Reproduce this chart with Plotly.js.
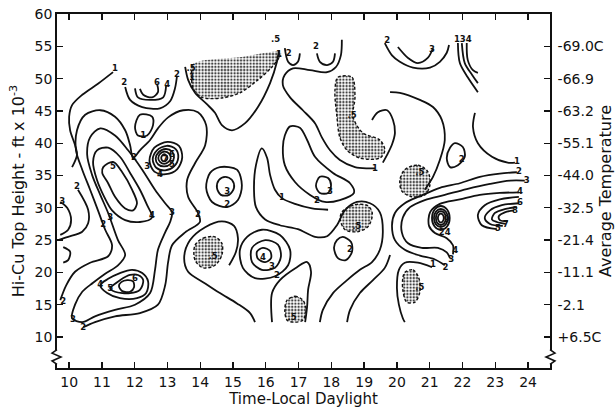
<!DOCTYPE html>
<html><head><meta charset="utf-8">
<script src="https://cdn.plot.ly/plotly-3.0.1.min.js"></script>
<style>html,body{margin:0;padding:0;background:#fff}#chart{width:615px;height:409px}</style>
</head><body><div id="chart"></div>
<script>
// ---- tick values / labels ----
const hourTicks = [10,11,12,13,14,15,16,17,18,19,20,21,22,23,24];
const heightTicks = [10,15,20,25,30,35,40,45,50,55,60];
const tempTickHeights = [55,50,45,40,35,30,25,20,15,10];
const tempTickLabels = ['-69.0C','-66.9','-63.2','-55.1','-44.0','-32.5','-21.4','-11.1','-2.1','+6.5C'];

const c1X=[11.34,10.88,10.40,10.09,10.00,10.03,10.18,10.24,10.09], c1Y=[51.0,49.2,47.5,45.9,44.1,42.0,39.7,38.2,36.3];
const uTop2X=[11.71,11.86,12.23,12.77,13.08,13.23,13.29], uTop2Y=[48.7,46.7,45.6,45.4,46.5,48.5,50.4];
const uTop4X=[12.01,12.10,12.47,12.87,12.96], uTop4Y=[48.5,47.1,46.7,47.1,49.0];
const uTop6X=[12.16,12.26,12.53,12.71,12.68], uTop6Y=[48.4,47.5,47.1,47.9,49.2];
const oval1X=[12.16,12.53,12.56,12.38,12.10,12.01,12.16], oval1Y=[44.4,44.1,42.8,41.2,41.2,42.5,44.4];
const left3X=[9.73,9.94,10.06,9.97,9.73], left3Y=[30.9,30.0,28.1,26.6,25.8];
const left2X=[10.27,10.58,10.58,10.40,9.97,9.66], left2Y=[32.8,29.7,27.6,26.3,25.5,25.0];
const leftArcX=[9.82,10.03,9.97,9.82], leftArcY=[23.9,23.2,21.9,21.5];
const ridge5X=[11.04,11.34,11.62,11.92,12.07,11.95,11.71,11.40,11.19,11.01,11.04], ridge5Y=[36.3,37.1,35.5,32.8,30.7,29.6,29.9,31.7,33.8,35.4,36.3];
const ridge4X=[12.53,12.38,12.16,11.86,11.55,11.19,10.85,10.73,10.85,11.07,11.31,11.71,12.16,12.53], ridge4Y=[28.5,30.4,32.8,35.4,37.9,39.3,38.9,37.1,34.3,31.7,29.6,28.1,27.8,28.5];
const loop3X=[10.09,10.18,10.40,10.73,11.10,11.49,11.71,11.49,11.19,10.95,10.70,10.55,10.64,10.95,11.40,11.80,12.23,12.62,12.93,13.14,13.08,12.93,12.71,12.62,12.47,12.01,11.40,10.79,10.40,10.09];
const loop3Y=[12.9,15.0,17.0,18.4,19.8,21.1,22.7,25.0,29.2,32.0,35.1,38.2,40.9,42.3,41.2,38.9,35.9,32.8,30.7,29.3,27.8,26.2,23.5,20.4,16.8,15.0,14.2,13.2,12.3,12.9];
const line2X=[9.73,9.91,10.18,10.64,11.19,11.31,11.10,10.88,10.64,10.40,10.21,10.24,10.49,10.95,11.40,11.71,11.86,11.95,12.16,12.47,12.71,13.02,13.48,13.93,14.18,14.15,13.84,13.60,13.63,13.93,13.99,13.54,13.14,13.02,12.93,12.71,12.16,11.40,10.79,10.43];
const line2Y=[15.7,18.0,20.1,21.5,22.5,24.2,26.6,29.6,32.8,35.9,38.9,42.0,44.4,45.1,44.1,42.0,39.7,37.7,38.9,40.5,42.3,44.0,45.1,44.8,42.8,39.7,36.9,34.3,31.7,29.2,27.8,26.2,24.2,21.6,18.0,15.0,13.7,13.2,12.3,11.5];
const ring3X=[13.00,13.35,13.45,13.30,12.95,12.60,12.45,12.60,13.00], ring3Y=[40.2,39.6,37.8,36.0,35.2,35.6,37.3,39.3,40.2];
const ring4X=[12.98,13.25,13.33,13.20,12.93,12.66,12.55,12.68,12.98], ring4Y=[39.6,39.1,37.8,36.4,35.8,36.2,37.5,38.9,39.6];
const ring5X=[12.95,13.14,13.20,13.10,12.90,12.72,12.64,12.73,12.95], ring5Y=[39.1,38.7,37.8,36.8,36.4,36.7,37.6,38.6,39.1];
const ring6X=[12.92,13.05,13.10,13.03,12.90,12.77,12.72,12.78,12.92], ring6Y=[38.7,38.4,37.7,37.1,36.8,37.1,37.7,38.4,38.7];
const ring7X=[12.90,12.97,13.00,12.96,12.90,12.84,12.81,12.84,12.90], ring7Y=[38.3,38.1,37.7,37.3,37.2,37.3,37.7,38.1,38.3];
const low4X=[10.95,11.16,11.55,12.07,12.35,12.41,12.23,11.92,11.55,11.19,10.95], low4Y=[18.0,16.8,16.0,16.0,16.8,18.6,19.9,20.4,19.9,19.0,18.0];
const low5X=[11.25,11.40,11.86,12.16,12.26,12.10,11.86,11.55,11.34,11.25], low5Y=[17.6,17.0,16.8,17.3,18.8,19.6,19.6,18.8,18.0,17.6];
const low6X=[11.52,11.62,11.86,11.98,11.95,11.77,11.59,11.52], low6Y=[17.9,17.1,17.0,17.7,18.6,18.8,18.5,17.9];
const v1X=[13.54,13.63,13.84,14.21,14.45,14.66,14.97,15.37,15.76,16.13,16.34,16.40], v1Y=[51.8,49.8,47.8,46.0,44.7,42.8,42.0,43.1,45.6,49.3,52.6,54.4];
const u2aX=[16.58,16.68,16.83,16.98,17.04], u2aY=[54.7,52.6,52.1,52.6,53.9];
const u2bX=[17.56,17.65,17.87,18.05,18.11], u2bY=[53.9,52.6,52.1,52.6,53.9];
const mid1X=[18.32,18.29,18.14,17.87,17.35,16.83,16.58,16.52,16.74,17.13,17.50,17.71,17.96,18.26,18.72,19.12,19.33];
const mid1Y=[56.0,53.6,51.8,51.0,51.3,51.6,50.6,49.0,47.1,45.1,43.1,40.9,38.9,37.4,36.3,36.1,36.1];
const sCurveX=[19.24,19.42,19.70,19.88,19.94,19.85,19.70,19.57], sCurveY=[43.6,44.8,45.1,43.6,41.6,39.8,38.2,37.0];
const loopA2X=[14.60,15.12,15.27,15.15,14.82,14.36,14.18,14.30,14.60], loopA2Y=[36.3,35.9,33.5,31.2,30.1,30.9,33.1,35.4,36.3];
const loopA3X=[14.76,14.97,15.03,14.88,14.63,14.51,14.57,14.76], loopA3Y=[34.8,34.3,33.1,32.0,32.0,33.1,34.3,34.8];
const loopB2X=[16.58,16.74,17.04,17.26,17.50,18.05,18.57,18.69,18.26,17.80,17.35,16.89,16.58,16.52,16.58], loopB2Y=[41.2,42.6,42.4,40.5,37.9,35.4,33.8,32.3,31.2,30.9,32.0,34.0,36.6,39.3,41.2];
const loopB3X=[17.65,17.90,17.99,17.90,17.65,17.53,17.65], loopB3Y=[34.8,34.6,33.5,32.3,32.3,33.4,34.8];
const lineAX=[17.65,17.74,18.05,18.48,18.87,19.24,19.48,19.57,19.48,19.18,18.78,18.41,18.17,17.87,17.50,16.98,16.43,15.98,15.70,15.64,15.70,15.88,16.04,16.13,16.28,16.49,16.89,17.41,17.90];
const lineAY=[12.3,14.2,16.8,18.8,20.4,21.6,23.5,26.2,29.3,30.7,30.9,29.6,27.3,25.6,25.5,26.7,27.3,28.2,30.1,32.8,36.6,39.2,37.7,35.1,32.8,31.5,30.6,29.9,29.7];
const lineBX=[18.48,18.57,18.87,19.27,19.63,19.79], lineBY=[12.3,14.2,16.8,18.8,20.7,22.7];
const oval2X=[18.35,18.60,18.63,18.44,18.20,18.08,18.17,18.35], oval2Y=[25.5,24.7,23.2,21.9,22.2,23.8,25.0,25.5];
const pk2X=[15.88,16.43,16.74,16.68,16.28,15.67,15.30,15.21,15.43,15.88], pk2Y=[26.6,25.8,23.5,21.1,19.4,19.1,20.7,23.5,25.5,26.6];
const pk3X=[15.98,16.37,16.46,16.28,15.88,15.58,15.58,15.98], pk3Y=[25.0,24.3,22.4,20.7,20.4,21.6,23.8,25.0];
const pk4X=[15.91,16.13,16.16,15.98,15.76,15.73,15.91], pk4Y=[23.8,23.3,22.2,21.6,22.1,23.2,23.8];
const m1X=[15.67,15.52,15.12,14.60,14.15,13.63,13.51,13.69,14.15,14.66,15.03,15.15,15.09,14.88], m1Y=[12.3,13.7,15.2,16.8,18.3,20.1,22.3,25.0,27.0,27.9,27.2,25.3,23.2,21.1];
const cap1X=[16.19,16.19,16.43,16.95,17.26,17.38,17.29,17.26,17.20], cap1Y=[12.3,16.8,18.8,20.8,21.6,20.1,17.3,14.7,12.3];
const u2rX=[19.63,19.85,20.09,20.49,21.01,21.31,21.52,21.59], u2rY=[55.5,53.6,52.6,51.7,51.7,52.6,54.0,55.2];
const u3X=[20.03,20.34,20.64,20.94,21.10], u3Y=[54.9,53.2,52.4,53.2,54.7];
const bigRX=[19.79,20.09,20.70,21.10,21.37,21.46,21.31,21.10,20.85], bigRY=[47.9,47.8,46.7,45.6,43.6,40.5,37.4,34.8,32.8];
const t1X=[21.86,21.92,22.16,22.47], t1Y=[55.5,52.4,50.2,47.9];
const t3X=[21.98,22.07,22.29,22.47], t3Y=[55.5,52.4,50.6,49.3];
const t4X=[22.13,22.16,22.32,22.47], t4Y=[55.5,52.9,51.3,50.9];
const oval2rX=[21.77,22.01,22.07,21.86,21.62,21.52,21.62,21.77], oval2rY=[40.0,39.4,37.9,36.6,36.3,37.7,39.3,40.0];
const r1X=[22.38,22.32,22.47,22.90,23.38,23.60], r1Y=[44.7,42.5,40.0,37.9,37.0,37.0];
const r2X=[23.66,23.14,22.53,21.92,21.31,20.70,20.24,19.94,19.85,19.94,20.24,20.70,21.16,21.46], r2Y=[35.5,35.3,34.8,33.8,33.1,31.8,30.7,29.2,27.3,25.0,23.5,22.6,22.0,21.1];
const r3X=[23.90,23.45,22.84,22.13,21.46,20.85,20.40,20.18,20.15,20.34,20.76,21.25,21.52,21.62], r3Y=[34.2,34.2,33.7,32.9,32.0,31.2,30.1,28.5,26.2,24.5,23.8,23.8,23.1,22.2];
const r4X=[23.72,23.14,22.53,21.92,21.31,21.01,20.98,21.16,21.52,21.71,21.71], r4Y=[32.4,32.3,32.0,31.3,30.6,29.3,27.2,26.1,25.3,24.2,22.8];
const pr5X=[21.34,21.53,21.61,21.53,21.34,21.15,21.07,21.15,21.34], pr5Y=[30.28,29.74,28.42,27.10,26.56,27.10,28.42,29.74,30.28];
const pr6X=[21.34,21.49,21.55,21.49,21.34,21.19,21.13,21.19,21.34], pr6Y=[29.81,29.40,28.42,27.44,27.03,27.44,28.42,29.40,29.81];
const pr7X=[21.34,21.45,21.49,21.45,21.34,21.23,21.19,21.23,21.34], pr7Y=[29.50,29.18,28.42,27.66,27.34,27.66,28.42,29.18,29.50];
const pr8X=[21.34,21.40,21.43,21.40,21.34,21.28,21.25,21.28,21.34], pr8Y=[29.12,28.92,28.42,27.92,27.72,27.92,28.42,28.92,29.12];
const n5X=[23.72,23.14,22.68,22.47,22.59,23.05], n5Y=[31.7,31.3,30.4,28.9,27.3,26.7];
const n6X=[23.72,23.20,22.84,22.68,22.84,23.23], n6Y=[30.7,30.4,29.6,28.4,27.5,27.2];
const n7X=[23.66,23.29,22.99,22.90,23.05,23.32], n7Y=[30.1,29.8,29.2,28.2,27.8,27.5];
const n8X=[23.57,23.29,23.11,23.14,23.38], n8Y=[29.6,29.3,28.7,28.1,27.9];
const b1X=[21.07,20.64,20.24,20.06,20.00,20.06,20.18,20.24], b1Y=[20.8,21.5,21.5,20.4,17.6,15.0,12.9,12.3];

// ---- areas below 0.5 (dashed outline, stippled) ----
const sTopLineX=[13.75,13.78,14.05,14.66,15.21,15.76,16.19,16.46], sTopLineY=[52.1,48.5,47.1,47.0,47.8,49.8,51.8,53.6];
const sTopX=[13.75,13.78,14.05,14.66,15.21,15.76,16.19,16.46,16.46,15.20,13.75], sTopY=[52.1,48.5,47.1,47.0,47.8,49.8,51.8,53.6,54.1,53.3,52.1];
const s2X=[18.20,18.63,18.72,18.66,18.96,19.48,19.63,19.48,18.87,18.48,18.26,18.17,18.11,18.20], s2Y=[50.2,50.2,47.1,44.1,41.6,40.5,38.9,37.7,37.7,38.9,40.9,44.1,48.2,50.2];
const s3X=[20.24,20.49,20.67,20.70,20.55,20.30,20.18,20.18,20.24], s3Y=[20.0,20.4,19.1,17.0,15.4,15.4,17.3,19.1,20.0];
const s4X=[18.33,18.73,19.12,19.25,19.12,18.79,18.42,18.27,18.33], s4Y=[29.4,30.5,30.3,29.1,27.1,26.3,26.6,28.2,29.4];
const s5X=[13.84,14.09,14.45,14.66,14.66,14.45,14.09,13.84,13.84], s5Y=[24.2,25.3,25.5,24.5,22.7,21.1,20.7,21.9,24.2];
const s6X=[16.65,16.89,17.13,17.23,17.13,16.89,16.65,16.58,16.65], s6Y=[15.7,16.3,15.7,14.2,12.6,12.3,12.6,14.2,15.7];
const sRX=[20.24,20.64,20.94,21.01,20.85,20.46,20.15,20.09,20.24], sRY=[35.9,36.6,35.6,33.6,32.0,31.7,32.6,34.3,35.9];

// ---- contour value labels ----
const labelText=['1','2','6','4','2','.5','1','1','5','7','6','5','3','4','2','2','3','3','2','4','3','2','2','3','2','4','5','6','3','2','.5','1','2','3','.5','2','4','3','2','.5','.5','1','2','2','.5','1','2','3','134','2','.5','1','2','3','4','6','8','7','5','9','2','4','4','3','2','1','.5'];
const labelX=[11.40,11.68,12.68,12.99,13.29,13.72,13.75,12.26,11.34,12.93,13.14,13.14,12.38,12.77,11.98,10.24,9.79,11.25,11.04,12.53,13.14,13.93,9.82,10.12,10.43,10.95,11.25,12.01,14.82,14.82,14.39,16.49,17.56,17.96,18.78,18.57,15.91,16.19,16.34,16.80,16.30,16.40,16.70,17.53,18.63,19.33,19.70,21.07,22.01,21.98,20.70,23.66,23.72,23.96,23.75,23.75,23.60,23.32,23.08,21.52,21.37,21.55,21.78,21.66,21.48,21.10,20.70];
const labelY=[51.5,49.3,49.3,49.0,50.6,51.5,50.1,41.1,36.4,37.4,38.2,36.6,36.3,35.1,37.7,33.2,30.9,28.5,27.3,28.7,29.2,28.9,15.5,12.7,11.4,18.0,17.4,19.0,32.4,30.4,22.4,31.5,31.0,32.4,27.0,23.5,22.2,20.8,19.4,12.9,56.0,53.6,53.9,54.9,44.3,36.1,55.8,54.4,56.0,37.4,35.4,37.1,35.5,34.1,32.4,30.7,29.6,27.3,26.7,28.2,26.1,26.1,23.4,21.9,20.7,21.1,17.6];

const solidLines=[[c1X,c1Y],[uTop2X,uTop2Y],[uTop4X,uTop4Y],[uTop6X,uTop6Y],[oval1X,oval1Y],[left3X,left3Y],[left2X,left2Y],[leftArcX,leftArcY],
 [ridge5X,ridge5Y],[ridge4X,ridge4Y],[loop3X,loop3Y],[line2X,line2Y],[ring3X,ring3Y],[ring4X,ring4Y],[ring5X,ring5Y],[ring6X,ring6Y],[ring7X,ring7Y],
 [low4X,low4Y],[low5X,low5Y],[low6X,low6Y],[v1X,v1Y],[u2aX,u2aY],[u2bX,u2bY],[mid1X,mid1Y],[sCurveX,sCurveY],[loopA2X,loopA2Y],[loopA3X,loopA3Y],
 [loopB2X,loopB2Y],[loopB3X,loopB3Y],[lineAX,lineAY],[lineBX,lineBY],[oval2X,oval2Y],[pk2X,pk2Y],[pk3X,pk3Y],[pk4X,pk4Y],[m1X,m1Y],[cap1X,cap1Y],
 [u2rX,u2rY],[u3X,u3Y],[bigRX,bigRY],[t1X,t1Y],[t3X,t3Y],[t4X,t4Y],[oval2rX,oval2rY],[r1X,r1Y],[r2X,r2Y],[r3X,r3Y],[r4X,r4Y],
 [pr5X,pr5Y],[pr6X,pr6Y],[pr7X,pr7Y],[pr8X,pr8Y],[n5X,n5Y],[n6X,n6Y],[n7X,n7Y],[n8X,n8Y],[b1X,b1Y]];
const stippleAreas=[[sTopX,sTopY,false],[s2X,s2Y,true],[s3X,s3Y,true],[s4X,s4Y,true],[s5X,s5Y,true],[s6X,s6Y,true],[sRX,sRY,true]];
const dashedLines=[[sTopLineX,sTopLineY]];

const ink='#111111';
const traces=[];
stippleAreas.forEach(([x,y,outline])=>{
  traces.push({type:'scatter',mode:'lines',x:x,y:y,fill:'toself',fillcolor:'rgba(255,255,255,0)',
    fillpattern:{shape:'.',fgcolor:'#444',bgcolor:'#fff',size:3.2,solidity:0.45},
    line:{color:outline?ink:'rgba(0,0,0,0)',width:1.4,dash:'3px,2px',shape:'spline',smoothing:0.9},hoverinfo:'skip',showlegend:false});
});
dashedLines.forEach(([x,y])=>traces.push({type:'scatter',mode:'lines',x:x,y:y,line:{color:ink,width:1.4,dash:'3px,2px',shape:'spline',smoothing:0.9},hoverinfo:'skip',showlegend:false}));
solidLines.forEach(([x,y])=>traces.push({type:'scatter',mode:'lines',x:x,y:y,line:{color:ink,width:1.8,shape:'spline',smoothing:0.9},hoverinfo:'skip',showlegend:false}));
traces.push({type:'scatter',mode:'text',x:labelX,y:labelY,text:labelText,textposition:'middle center',
  textfont:{family:'DejaVu Sans',size:8.5,color:ink,weight:'bold'},hoverinfo:'skip',showlegend:false});
traces.push({type:'scatter',mode:'markers',x:[hourTicks[0]],y:[heightTicks[0]],yaxis:'y2',marker:{opacity:0,size:1},hoverinfo:'skip',showlegend:false});

// axis-break symbols near the bottom of both vertical axes (paper coordinates)
const breakShapes=[
  {type:'rect',xref:'paper',yref:'paper',x0:-0.008,x1:0.008,y0:0.012,y1:0.05,fillcolor:'#fff',line:{width:0}},
  {type:'path',xref:'paper',yref:'paper',path:'M0,0.052 L-0.010,0.042 L0.008,0.031 L-0.010,0.020 L0,0.010',line:{color:ink,width:1.6}},
  {type:'rect',xref:'paper',yref:'paper',x0:0.992,x1:1.008,y0:0.012,y1:0.05,fillcolor:'#fff',line:{width:0}},
  {type:'path',xref:'paper',yref:'paper',path:'M1,0.052 L1.010,0.042 L0.992,0.031 L1.010,0.020 L1,0.010',line:{color:ink,width:1.6}}
];

const axisCommon={ticks:'inside',ticklen:6,tickwidth:1.3,tickcolor:ink,showline:true,linecolor:ink,linewidth:1.8,showgrid:false,zeroline:false,
  tickfont:{family:'DejaVu Sans',size:14,color:ink}};
const layout={width:615,height:409,margin:{l:57,r:65,t:14,b:41},paper_bgcolor:'#fff',plot_bgcolor:'#fff',showlegend:false,
  font:{family:'DejaVu Sans, sans-serif',color:ink},shapes:breakShapes,
  xaxis:Object.assign({},axisCommon,{range:[9.63,24.67],tickvals:hourTicks,mirror:'ticks',
    title:{text:'Time-Local Daylight',font:{size:15,family:'DejaVu Sans'},standoff:2}}),
  yaxis:Object.assign({},axisCommon,{range:[5.2,60],tickvals:heightTicks,
    title:{text:'Hi-Cu Top Height - ft x 10<sup>-3</sup>',font:{size:16,family:'DejaVu Sans'},standoff:6}}),
  yaxis2:Object.assign({},axisCommon,{overlaying:'y',side:'right',range:[5.2,60],tickvals:tempTickHeights,ticktext:tempTickLabels,
    ticklabelstandoff:3,title:{text:'Average Temperature',font:{size:16,family:'DejaVu Sans'},standoff:4}})
};
Plotly.newPlot('chart',traces,layout,{staticPlot:true,displayModeBar:false});
</script></body></html>
